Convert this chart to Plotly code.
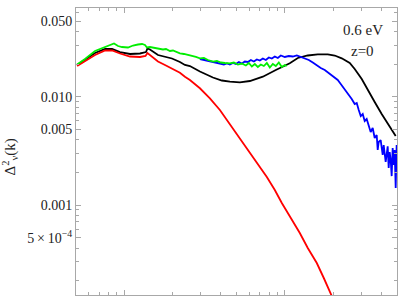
import plotly.graph_objects as go

# ---- data (k, Delta^2_nu(k)) ----
k_black = [0.00508, 0.00569, 0.00657, 0.00759, 0.00839, 0.00940, 0.01085, 0.01252, 0.01365, 0.01394,
           0.01445, 0.01621, 0.01792, 0.01981, 0.02221, 0.02386, 0.02563, 0.02958, 0.03565, 0.04055,
           0.04546, 0.05248, 0.06056, 0.07298, 0.08790, 0.1074, 0.1205, 0.1390, 0.1605, 0.1852,
           0.2047, 0.2263, 0.2538, 0.2726, 0.3015, 0.3285, 0.3631, 0.4014, 0.4501, 0.4908]
d_black = [0.01962, 0.02182, 0.02532, 0.02757, 0.02757, 0.02586, 0.02479, 0.02506, 0.02586, 0.02787,
           0.02728, 0.02427, 0.02326, 0.02253, 0.02091, 0.01962, 0.01920, 0.01709, 0.01504, 0.01411,
           0.01375, 0.01358, 0.01396, 0.01530, 0.01765, 0.02034, 0.02277, 0.02401, 0.02463, 0.02463,
           0.02401, 0.02263, 0.02047, 0.01803, 0.01457, 0.01153, 0.008936, 0.006922, 0.005252, 0.004336]

k_red = [0.00508, 0.00569, 0.00657, 0.00759, 0.00839, 0.00940, 0.01085, 0.01252, 0.01355, 0.01394,
         0.01445, 0.01621, 0.01792, 0.01981, 0.02221, 0.02386, 0.02563, 0.02958, 0.03414, 0.03940,
         0.04546, 0.05248, 0.05886, 0.06696, 0.07727, 0.08665, 0.09579, 0.1090, 0.1240, 0.1390,
         0.1582, 0.1749, 0.1961, 0.2077]
d_red = [0.01920, 0.02136, 0.02427, 0.02671, 0.02671, 0.02506, 0.02350, 0.02326, 0.02375, 0.02532,
         0.02427, 0.02114, 0.01962, 0.01829, 0.01666, 0.01530, 0.01426, 0.01196, 0.009666, 0.007535,
         0.005597, 0.004068, 0.003220, 0.002443, 0.001814, 0.001376, 0.001043, 0.0007586, 0.0005512, 0.0004009,
         0.0002914, 0.0002118, 0.0001476, 0.0001193]

k_green = [0.00508, 0.00569, 0.00657, 0.007266, 0.007917, 0.00839, 0.008628, 0.009138, 0.009676, 0.01054,
           0.01133, 0.01217, 0.01289, 0.01345, 0.01384, 0.01445, 0.01552, 0.01668, 0.01741, 0.01818,
           0.01925, 0.02010, 0.02128, 0.02221, 0.02352, 0.02491, 0.02638, 0.02794, 0.02958, 0.03133,
           0.03318, 0.03565, 0.03775, 0.03998, 0.04232, 0.04546, 0.04815, 0.05099, 0.05400, 0.05719,
           0.05970, 0.06232, 0.06505, 0.06792, 0.07090, 0.07401, 0.07727, 0.08067, 0.08420, 0.08790,
           0.09176, 0.09579, 0.1000, 0.1029]
d_green = [0.01983, 0.02229, 0.02642, 0.02817, 0.02938, 0.03034, 0.03099, 0.02938, 0.02876, 0.02846,
           0.02970, 0.03034, 0.03067, 0.03002, 0.02846, 0.02876, 0.02817, 0.02787, 0.02728, 0.02757,
           0.02642, 0.02671, 0.02586, 0.02516, 0.02479, 0.02427, 0.02401, 0.02326, 0.02263, 0.02277,
           0.02182, 0.02105, 0.02136, 0.02069, 0.02047, 0.02034, 0.02069, 0.01983, 0.02025, 0.01941,
           0.02047, 0.01900, 0.02003, 0.01880, 0.01983, 0.01920, 0.02047, 0.01861, 0.02003, 0.01920,
           0.02069, 0.01880, 0.01962, 0.01920]

k_blue = [0.02958, 0.03133, 0.03318, 0.03513, 0.03720, 0.03940, 0.04173, 0.04356, 0.04546, 0.04747,
          0.04956, 0.05173, 0.05400, 0.05637, 0.05886, 0.06144, 0.06414, 0.06696, 0.06988, 0.07298,
          0.07617, 0.07951, 0.08300, 0.08665, 0.09046, 0.09443, 0.1000, 0.1059, 0.1121, 0.1188,
          0.1258, 0.1331, 0.1411, 0.1494, 0.1582, 0.1675, 0.1774, 0.1878, 0.1961, 0.2047,
          0.2137, 0.2231, 0.2329, 0.2431, 0.2538, 0.2612, 0.2726, 0.2806, 0.2888, 0.2972,
          0.3058, 0.3146, 0.3237, 0.3332, 0.3428, 0.3528, 0.3631, 0.3737, 0.3791, 0.3846,
          0.3957, 0.4073, 0.4131, 0.4251, 0.4313, 0.4375, 0.4438, 0.4501, 0.4567, 0.4633,
          0.4699, 0.4767, 0.4835, 0.4908, 0.4975]
d_blue = [0.02229, 0.02182, 0.02159, 0.02114, 0.02069, 0.02025, 0.01983, 0.02025, 0.01983, 0.02047,
          0.02003, 0.02091, 0.02025, 0.02114, 0.02091, 0.02182, 0.02114, 0.02206, 0.02159, 0.02253,
          0.02182, 0.02301, 0.02253, 0.02350, 0.02277, 0.02401, 0.02326, 0.02375, 0.02350, 0.02401,
          0.02326, 0.02253, 0.02182, 0.02069, 0.01941, 0.01841, 0.01763, 0.01655, 0.01586, 0.01488,
          0.01426, 0.01310, 0.01203, 0.01105, 0.01015, 0.009523, 0.008562, 0.008745, 0.007535, 0.006633,
          0.006922, 0.005965, 0.006223, 0.005252, 0.004721, 0.005140, 0.004155, 0.004430, 0.003220, 0.003817,
          0.003980, 0.002895, 0.003580, 0.002495, 0.003220, 0.003476, 0.002196, 0.003085, 0.002600, 0.001850,
          0.003360, 0.002340, 0.003220, 0.001436, 0.003580]

y_major_vals = [0.05, 0.01, 0.005, 0.001, 0.0005]
y_major_text = ["0.050", "0.010", "0.005", "0.001", "5\u2009\u00d7\u200910<sup>\u22124</sup>"]
y_minor_vals = [0.0002, 0.0003, 0.0004, 0.0006, 0.0007, 0.0008, 0.0009,
                0.002, 0.003, 0.004, 0.006, 0.007, 0.008, 0.009,
                0.02, 0.03, 0.04, 0.06]
x_major_vals = [0.01, 0.1]
x_minor_vals = [0.006, 0.007, 0.008, 0.009, 0.02, 0.03, 0.04, 0.05, 0.06, 0.07, 0.08, 0.09,
                0.2, 0.3, 0.4]

SERIF = "Liberation Serif, Times New Roman, serif"

fig = go.Figure()
series = [(k_black, d_black, "black"), (k_red, d_red, "#ff0000"),
          (k_blue, d_blue, "#0000ff"), (k_green, d_green, "#00ee00")]
for kx, dy, c in series:
    fig.add_trace(go.Scatter(x=kx, y=dy, mode="lines", line=dict(color=c, width=1.8),
                             showlegend=False, hoverinfo="skip"))

axcol = "#a8a8a8"
fig.update_xaxes(type="log", range=[-2.301, -0.301], showgrid=False, zeroline=False,
                 automargin=False,
                 showline=True, linecolor=axcol, linewidth=1, mirror="ticks",
                 ticks="inside", ticklen=5, tickcolor=axcol, tickmode="array",
                 tickvals=x_major_vals, showticklabels=False,
                 minor=dict(tickmode="array", tickvals=x_minor_vals, ticks="inside",
                            ticklen=3, tickcolor=axcol, showgrid=False))
fig.update_yaxes(type="log", range=[-3.831, -1.181], showgrid=False, zeroline=False,
                 automargin=False,
                 showline=True, linecolor=axcol, linewidth=1, mirror="ticks",
                 ticks="inside", ticklen=5, tickcolor=axcol, tickmode="array",
                 tickvals=y_major_vals, ticktext=y_major_text,
                 tickfont=dict(family=SERIF, size=14, color="#222"),
                 minor=dict(tickmode="array", tickvals=y_minor_vals, ticks="inside",
                            ticklen=3, tickcolor=axcol, showgrid=False))

fig.add_annotation(text="\u0394<sup>2</sup><sub>\u03bd</sub>(k)", xref="paper", yref="paper",
                   x=-0.205, y=0.48, textangle=-90, showarrow=False,
                   xanchor="center", yanchor="middle",
                   font=dict(family=SERIF, size=15, color="#222"))
fig.add_annotation(text="0.6 eV", xref="paper", yref="paper", x=0.894, y=0.923,
                   showarrow=False, xanchor="center", yanchor="middle",
                   font=dict(family=SERIF, size=15, color="#222"))
fig.add_annotation(text="z=0", xref="paper", yref="paper", x=0.893, y=0.850,
                   showarrow=False, xanchor="center", yanchor="middle",
                   font=dict(family=SERIF, size=15, color="#222"))

fig.update_layout(width=405, height=297, margin=dict(l=76, r=8, t=8, b=2),
                  plot_bgcolor="white", paper_bgcolor="white")
fig.write_html("out.html", config={"displayModeBar": False},
               post_script="document.body.style.margin='0px';document.body.style.overflow='hidden';")
